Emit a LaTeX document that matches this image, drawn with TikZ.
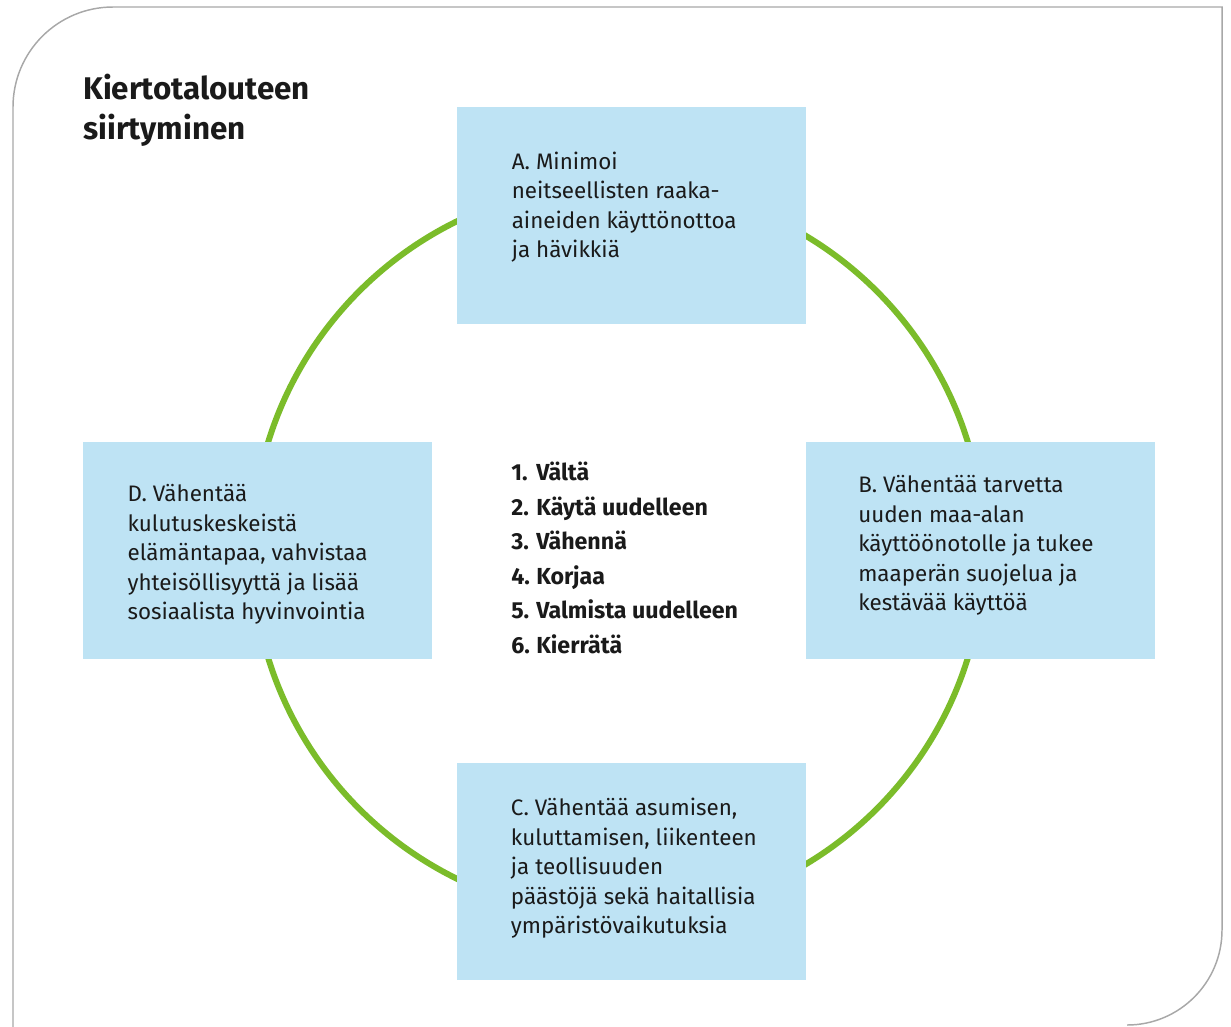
\documentclass[tikz,border=0pt]{standalone}
\usepackage{fontspec}
\setmainfont{Fira Sans}
\definecolor{boxblue}{HTML}{BEE3F4}
\definecolor{ringgreen}{HTML}{7BBC2A}
\definecolor{framegray}{HTML}{A8A8A8}
\definecolor{txt}{HTML}{1A1A1A}
\tikzset{
  box/.style={fill=boxblue, draw=none, anchor=north west, inner sep=0pt,
    minimum width=261.75pt, minimum height=162.75pt},
  boxtext/.style={anchor=base west, inner sep=0pt, align=left, text=txt,
    font=\fontsize{16.8}{22.1}\selectfont},
  titletext/.style={anchor=base west, inner sep=0pt, align=left, text=txt,
    font=\fontsize{23.5}{29.3}\selectfont\bfseries},
  listtext/.style={anchor=base west, inner sep=0pt, align=left, text=txt,
    font=\fontsize{17.4}{25.9}\selectfont\bfseries},
}
\newcommand{\numitem}[1]{\makebox[18.75pt][l]{#1}}
\begin{document}
\begin{tikzpicture}[x=0.75pt,y=-0.75pt]
\useasboundingbox (0,0) rectangle (1231,1026);
% frame
\draw[framegray, line width=1.1pt] (13,1030) -- (13,107)
  arc[start angle=180, end angle=270, radius=100] -- (1222,7) -- (1222,930)
  arc[start angle=0, end angle=90, radius=95];
% ring
\draw[ringgreen, line width=4.5pt] (618,550) circle[radius=366];
% boxes
\node[box] (A) at (457,107) {};
\node[box] (B) at (806,442) {};
\node[box] (C) at (457,763) {};
\node[box] (D) at (83,442) {};
% title (anchor at baseline of last line)
\node[titletext] (title) at (83,139) {Kiertotalouteen\\siirtyminen};
% box texts (anchor at baseline of last line)
\node[boxtext] (tA) at (511.5,257.5) {A. Minimoi\\neitseellisten raaka-\\aineiden käyttönottoa\\ja hävikkiä};
\node[boxtext] (tB) at (858,610.7) {B. Vähentää tarvetta\\uuden maa-alan\\käyttöönotolle ja tukee\\maaperän suojelua ja\\kestävää käyttöä};
\node[boxtext] (tC) at (510.7,933.7) {C. Vähentää asumisen,\\kuluttamisen, liikenteen\\ja teollisuuden\\päästöjä sekä haitallisia\\ympäristövaikutuksia};
\node[boxtext] (tD) at (127.3,619.7) {D. Vähentää\\kulutuskeskeistä\\elämäntapaa, vahvistaa\\yhteisöllisyyttä ja lisää\\sosiaalista hyvinvointia};
% list
\node[listtext] (list) at (511,653.5) {\numitem{1.}Vältä\\\numitem{2.}Käytä uudelleen\\\numitem{3.}Vähennä\\\numitem{4.}Korjaa\\\numitem{5.}Valmista uudelleen\\\numitem{6.}Kierrätä};
\end{tikzpicture}
\end{document}
